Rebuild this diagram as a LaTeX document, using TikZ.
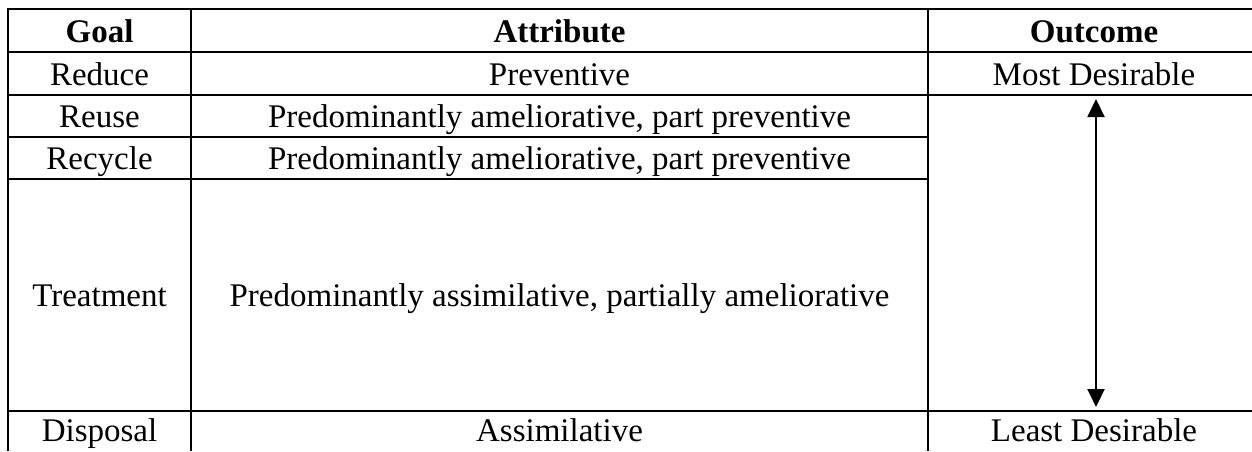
\documentclass[tikz,border=0pt]{standalone}
\usepackage{fontspec}
\setmainfont{Liberation Serif}
\usepackage{tikz}
\usetikzlibrary{arrows.meta}

\begin{document}
\begin{tikzpicture}[x=1pt,y=-1pt]

	\useasboundingbox (0,0) rectangle (1252,451);
	\tikzstyle{rule} = [draw,line width=2pt]
	\tikzset{cell/.style = {font=\fontsize{33}{38}\selectfont,inner sep=0pt,anchor=base}}
	\tikzset{head/.style = {cell,font=\fontsize{33}{38}\selectfont\bfseries}}

	% grid
	\draw[rule] (8,451) -- (8,9) -- (1252,9);
	\draw[rule] (191,9) -- (191,451);
	\draw[rule] (928,9) -- (928,451);
	\draw[rule] (8,52) -- (1252,52);
	\draw[rule] (8,95) -- (1252,95);
	\draw[rule] (8,137) -- (928,137);
	\draw[rule] (8,179) -- (928,179);
	\draw[rule] (8,411) -- (1252,411);

	\node[head] (goal) at (99.5,42) {Goal};
	\node[head] (attr) at (559.5,42) {Attribute};
	\node[head] (outc) at (1094,42) {Outcome};

	\node[cell] (reduce) at (99.5,85) {Reduce};
	\node[cell] (reuse) at (99.5,127) {Reuse};
	\node[cell] (recycle) at (99.5,169) {Recycle};
	\node[cell] (treat) at (99.5,306) {Treatment};
	\node[cell] (dispose) at (99.5,441) {Disposal};

	\node[cell] (prev) at (559.5,85) {Preventive};
	\node[cell] (amel1) at (559.5,127) {Predominantly ameliorative, part preventive};
	\node[cell] (amel2) at (559.5,169) {Predominantly ameliorative, part preventive};
	\node[cell] (assim) at (559.5,306) {Predominantly assimilative, partially ameliorative};
	\node[cell] (assim2) at (559.5,441) {Assimilative};

	\node[cell] (most) at (1094,85) {Most Desirable};
	\node[cell] (least) at (1094,441) {Least Desirable};

	\coordinate (up) at (1096,99);
	\coordinate (down) at (1096,407);
	\draw[line width=2pt,{Triangle[length=18pt,width=17pt]}-{Triangle[length=18pt,width=17pt]}] (up) -- (down);
\end{tikzpicture}
\end{document}
